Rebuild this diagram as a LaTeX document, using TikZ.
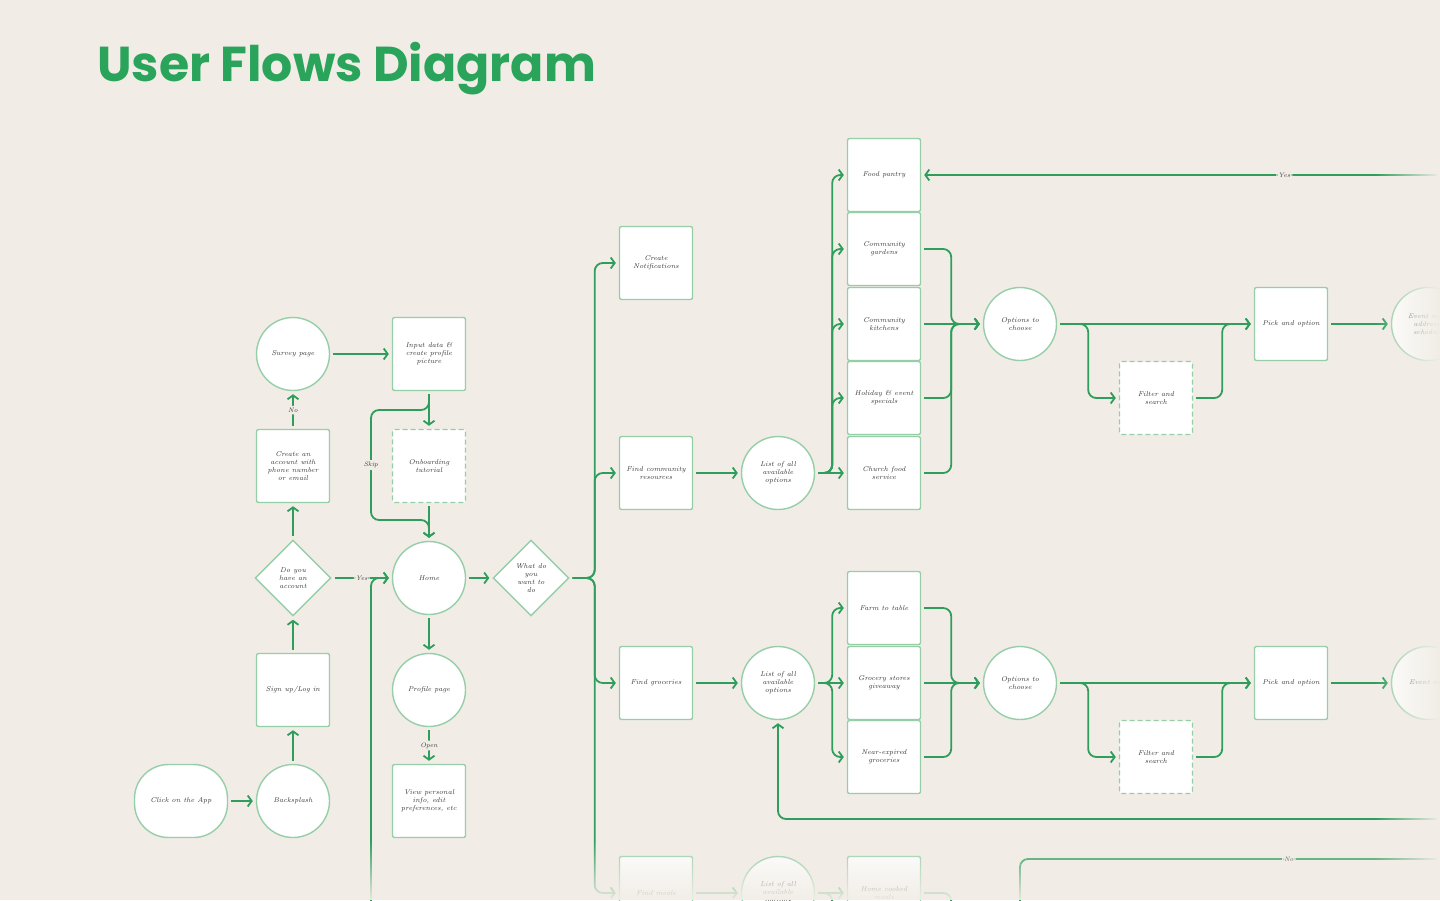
\documentclass[tikz,border=0pt]{standalone}
\usepackage{fontspec}
\newfontfamily\titlefont{Poppins}
\usetikzlibrary{shapes.geometric,arrows.meta,fadings}

\definecolor{paper}{HTML}{F1EDE6}
\definecolor{flowgreen}{HTML}{2F9E5C}
\definecolor{edgegreen}{HTML}{96CEA8}
\definecolor{titlegreen}{HTML}{2AA45B}
\definecolor{ink}{HTML}{363636}

\tikzfading[name=fadeeast, left color=transparent!100, right color=transparent!0]
\tikzfading[name=fadesouth, top color=transparent!100, bottom color=transparent!5]

\begin{document}
\begin{tikzpicture}[
    x=1pt, y=-1pt,
    every node/.style={font=\itshape\fontsize{7}{8}\selectfont, text=ink, align=center},
    screen/.style={draw=edgegreen, line width=1.4pt, fill=white, rounded corners=2pt, minimum size=73pt, inner sep=2pt},
    optional/.style={screen, dash pattern=on 5pt off 3pt},
    page/.style={circle, draw=edgegreen, line width=1.4pt, fill=white, minimum size=73pt, inner sep=1pt},
    decision/.style={diamond, draw=edgegreen, line width=1.4pt, fill=white, minimum size=76pt, inner sep=0pt},
    start/.style={draw=edgegreen, line width=1.4pt, fill=white, rounded corners=34pt, minimum width=93pt, minimum height=73pt},
    flow/.style={draw=flowgreen, line width=1.8pt, rounded corners=8pt, shorten <=3pt, shorten >=3pt, -{Straight Barb[length=4pt,width=11pt]}},
    line/.style={flow, -},
    lbl/.style={fill=paper, inner sep=2pt, font=\itshape\fontsize{6.5}{7.5}\selectfont}
    ]
    \useasboundingbox (0,0) rectangle (1440,900);
    \fill[paper] (0,0) rectangle (1440,900);
    \clip (0,0) rectangle (1440,900);

    \node[font=\titlefont\bfseries\fontsize{49}{49}\selectfont, text=titlegreen, anchor=west, inner sep=0pt] (title) at (97,69) {User Flows Diagram};

    % sign up
    \node[start] (click) at (181,801) {Click on the App};
    \node[page] (splash) at (293,801) {Backsplash};
    \node[screen] (signup) at (293,690) {Sign up/Log in};
    \node[decision] (hasacc) at (293,578) {Do you\\have an\\account};
    \node[screen] (create) at (293,466) {Create an\\account with\\phone number\\or email};
    \node[page] (survey) at (293,354) {Survey page};
    \node[screen] (input) at (429,354) {Input data \&\\create profile\\picture};
    \node[optional] (onboard) at (429,466) {Onboarding\\tutorial};
    \node[page] (home) at (429,578) {Home};
    \node[page] (profile) at (429,690) {Profile page};
    \node[screen] (view) at (429,801) {View personal\\info, edit\\preferences, etc};
    \node[decision] (whatdo) at (531,578) {What do\\you\\want to\\do};

    % tasks
    \node[screen] (notif) at (656,263) {Create\\Notifications};
    \node[screen] (findres) at (656,473) {Find community\\resources};
    \node[screen] (findgro) at (656,683) {Find groceries};
    \node[screen] (findmeal) at (656,893) {Find meals};
    \node[page] (listres) at (778,473) {List of all\\available\\options};
    \node[page] (listgro) at (778,683) {List of all\\available\\options};
    \node[page] (listmeal) at (778,893) {List of all\\available\\options};

    % resources
    \node[screen] (pantry) at (884,175) {Food pantry};
    \node[screen] (gardens) at (884,249) {Community\\gardens};
    \node[screen] (kitchens) at (884,324) {Community\\kitchens};
    \node[screen] (holiday) at (884,398) {Holiday \& event\\specials};
    \node[screen] (church) at (884,473) {Church food\\service};
    \node[screen] (farm) at (884,608) {Farm to table};
    \node[screen] (grocery) at (884,683) {Grocery stores\\giveaway};
    \node[screen] (nearexp) at (884,757) {Near-expired\\groceries};
    \node[screen] (homecook) at (884,893) {Home cooked\\meals};

    % choosing
    \node[page] (optres) at (1020,324) {Options to\\choose};
    \node[page] (optgro) at (1020,683) {Options to\\choose};
    \node[optional] (filtres) at (1156,398) {Filter and\\search};
    \node[optional] (filtgro) at (1156,757) {Filter and\\search};
    \node[screen] (pickres) at (1291,324) {Pick and option};
    \node[screen] (pickgro) at (1291,683) {Pick and option};
    \node[page] (eventres) at (1428,324) {Event info,\\address,\\schedule};
    \node[page] (eventgro) at (1428,683) {Event info};

    \coordinate (yesin) at (1440,175);
    \coordinate (loopin) at (1440,819);
    \coordinate (noin) at (1440,859);
    \coordinate (noout) at (1020,905);
    \coordinate (backin) at (371,905);

    \draw[flow] (click) -- (splash);
    \draw[flow] (splash) -- (signup);
    \draw[flow] (signup) -- (hasacc);
    \draw[flow] (hasacc) -- (create);
    \draw[flow] (create) -- (survey) node[midway, lbl] {No};
    \draw[flow] (survey) -- (input);
    \draw[flow] (input) -- (onboard);
    \draw[flow] (onboard) -- (home);
    \draw[flow] (input.south) |- (371,410) |- node[pos=0.25, lbl] {Skip} (429,520) -- (home.north);
    \draw[flow] (hasacc) -- (home) node[midway, lbl] {Yes};
    \draw[flow] (backin) |- (home.west);
    \draw[flow] (home) -- (whatdo);
    \draw[flow] (home) -- (profile);
    \draw[flow] (profile) -- (view) node[midway, lbl] {Open};

    \foreach \t in {notif, findres, findgro, findmeal}
      \draw[flow] (whatdo.east) -- ++(25,0) |- (\t.west);

    \draw[flow] (findres) -- (listres);
    \foreach \t in {pantry, gardens, kitchens, holiday}
      \draw[flow] (listres.east) -- ++(17,0) |- (\t.west);
    \draw[flow] (listres) -- (church);
    \foreach \t in {gardens, holiday, church}
      \draw[flow] (\t.east) -- ++(30,0) |- (optres.west);
    \draw[flow] (kitchens) -- (optres);

    \draw[flow] (findgro) -- (listgro);
    \foreach \t in {farm, nearexp}
      \draw[flow] (listgro.east) -- ++(17,0) |- (\t.west);
    \draw[flow] (listgro) -- (grocery);
    \foreach \t in {farm, nearexp}
      \draw[flow] (\t.east) -- ++(30,0) |- (optgro.west);
    \draw[flow] (grocery) -- (optgro);

    \draw[flow] (optres) -- (pickres);
    \draw[flow] (optres.east) -- ++(31,0) |- (filtres.west);
    \draw[flow] (filtres.east) -- ++(29,0) |- (pickres.west);
    \draw[flow] (pickres) -- (eventres);
    \draw[flow] (optgro) -- (pickgro);
    \draw[flow] (optgro.east) -- ++(31,0) |- (filtgro.west);
    \draw[flow] (filtgro.east) -- ++(29,0) |- (pickgro.west);
    \draw[flow] (pickgro) -- (eventgro);

    \draw[flow] (yesin) -- (pantry.east) node[pos=0.3, lbl] {Yes};
    \draw[flow] (loopin) -| (listgro.south);
    \draw[line] (noin) -| (noout) node[pos=0.18, lbl] {No};

    \draw[flow] (findmeal) -- (listmeal);
    \draw[flow] (listmeal) -- (homecook);
    \draw[line] (listmeal.east) -- ++(17,0) -- ++(0,30);
    \draw[line] (homecook.east) -- ++(30,0) -- ++(0,30);

    % fade out at the edges
    \fill[paper, path fading=fadesouth] (0,840) rectangle (1440,900);
    \fill[paper, path fading=fadeeast] (1375,0) rectangle (1440,900);
\end{tikzpicture}
\end{document}
